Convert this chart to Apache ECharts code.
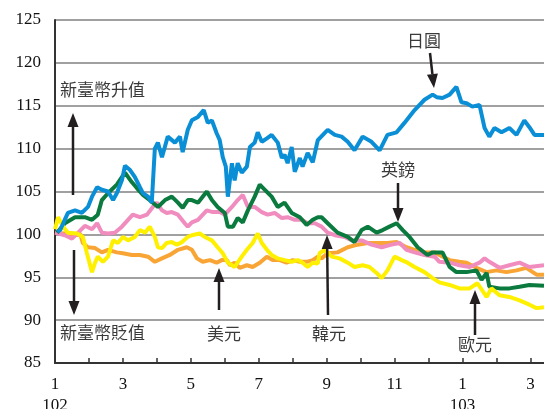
<!DOCTYPE html>
<html>
<head>
<meta charset="utf-8">
<script src="https://cdn.jsdelivr.net/npm/echarts@6/dist/echarts.min.js"></script>
<style>
  html, body { margin: 0; padding: 0; background: #fff; }
  #chart { width: 544px; height: 409px; }
</style>
</head>
<body>
<div id="chart"></div>
<script>
// x = months since Jan 102, y = index (start = 100)
const jpy = [
  [0.06,100.3],[0.15,100.5],[0.38,102.5],[0.59,102.8],[0.79,102.5],[0.97,103.2],[1.09,104.4],[1.24,105.5],
  [1.38,105.2],[1.56,105],[1.71,104],[1.82,104.8],[1.97,106.3],[2.06,108],[2.21,107.5],[2.35,106.7],
  [2.5,105.5],[2.59,104.8],[2.74,104.4],[2.85,103.7],[2.94,110],[3.03,110.7],[3.15,109],[3.32,111.4],
  [3.53,110.7],[3.68,111.4],[3.76,109.6],[3.91,112.2],[4.03,113.3],[4.21,113.7],[4.38,114.5],[4.5,113],
  [4.62,113.3],[4.76,111.8],[4.85,111],[4.94,109],[5.03,107.9],[5.09,104.4],[5.21,108.3],[5.29,106.3],
  [5.38,108.3],[5.5,107.2],[5.65,107.9],[5.74,110.2],[5.88,110.7],[5.97,111.9],[6.09,110.8],[6.24,111.2],
  [6.38,111.6],[6.56,110.7],[6.68,108.9],[6.76,109.3],[6.85,108.3],[6.97,110.2],[7.06,107.3],[7.21,108.9],
  [7.29,107.9],[7.44,109.5],[7.59,108.4],[7.74,111],[8.03,112.2],[8.24,111.6],[8.44,111.4],[8.62,110.8],
  [8.82,109.8],[9.06,111.4],[9.32,110.8],[9.56,109.8],[9.79,111.6],[10.06,111.9],[10.29,113],[10.59,114.5],
  [10.88,115.7],[11.12,116.3],[11.24,116],[11.41,115.9],[11.62,116.3],[11.82,117.2],[11.97,115.4],[12.12,115.3],
  [12.29,114.9],[12.5,115.1],[12.65,112.4],[12.79,111.4],[12.94,112.4],[13.15,111.9],[13.38,112.4],[13.59,111.6],
  [13.82,113.3],[13.97,112.5],[14.12,111.6],[14.4,111.6]
];
const gbp = [
  [0.06,100.2],[0.29,101.3],[0.59,102],[0.88,102],[1.09,101.7],[1.26,102.3],[1.38,104],[1.56,104.8],
  [1.82,105.8],[2.06,107.2],[2.26,106.1],[2.41,105.4],[2.59,104.6],[2.85,103.8],[3.03,103.2],[3.24,104],
  [3.44,104.4],[3.62,103.7],[3.76,103.1],[3.91,104],[4.03,104],[4.21,103.7],[4.47,105],[4.62,104],
  [4.79,103.2],[5,102.5],[5.09,100.9],[5.24,100.9],[5.38,101.9],[5.53,101.4],[5.68,102.8],[5.88,104.4],
  [6.03,105.8],[6.18,105.2],[6.38,104.4],[6.56,103.2],[6.76,103.7],[6.97,102.5],[7.21,102],[7.41,101.1],
  [7.59,101.7],[7.74,102],[7.85,102],[8.03,101.3],[8.32,100.2],[8.62,99.7],[8.82,99.1],[9.03,100.5],
  [9.21,100.9],[9.47,100.2],[9.65,100.5],[9.85,100.9],[10.06,101.3],[10.24,100.5],[10.44,99.7],[10.68,98.5],
  [10.97,97.6],[11.12,97.9],[11.41,97.9],[11.62,96.2],[11.82,95.6],[12.12,95.6],[12.41,95.8],[12.56,94.7],
  [12.71,95.5],[12.79,93.9],[13.09,93.7],[13.38,93.7],[13.68,93.9],[13.97,94.1],[14.4,94]
];
const krw = [
  [0,100.2],[0.29,99.9],[0.5,99.5],[0.68,100.2],[0.88,101],[1.09,100.6],[1.24,101.3],[1.38,100.2],
  [1.56,100.1],[1.76,100.2],[1.97,100.9],[2.15,101.7],[2.29,102.3],[2.5,102],[2.71,102.3],[2.88,103.2],
  [3,103.7],[3.15,102.8],[3.29,102.5],[3.44,102.6],[3.62,102.3],[3.82,101.3],[3.91,100.9],[4.03,101.4],
  [4.21,101.7],[4.47,102.8],[4.65,102.6],[4.85,102.6],[5,102.3],[5.21,103.2],[5.38,104],[5.53,104.6],
  [5.68,103.2],[5.88,103.2],[6.09,102.6],[6.26,102.3],[6.47,102.5],[6.68,101.9],[6.85,102],[7.06,101.7],
  [7.26,101.7],[7.44,101.3],[7.65,101.3],[7.85,100.9],[8.03,100.2],[8.24,99.9],[8.53,99.7],[8.74,99.3],
  [9.03,99.3],[9.32,98.8],[9.62,98.5],[9.91,98.8],[10.15,99],[10.35,98.2],[10.59,97.9],[10.88,97.6],
  [11.18,97.4],[11.32,96.8],[11.62,96.7],[11.91,96.4],[12.21,96.2],[12.5,96.7],[12.65,97.2],[12.79,96.8],
  [13.09,96.1],[13.38,96.4],[13.68,96.7],[13.97,96.2],[14.4,96.4]
];
const eur = [
  [0,100.6],[0.09,102],[0.24,100.9],[0.38,100.2],[0.65,100.1],[0.82,99.7],[0.94,97.8],[1.09,95.6],
  [1.18,96.7],[1.26,97.4],[1.41,96.8],[1.56,97.4],[1.71,99.3],[1.85,99],[2,99.7],[2.15,99.3],
  [2.35,99.7],[2.5,100.5],[2.65,100.2],[2.79,100.9],[2.94,99.7],[3.03,98.5],[3.15,98.4],[3.29,99],
  [3.44,99.1],[3.59,98.8],[3.74,99.1],[3.91,99.7],[4.03,99.9],[4.26,100.1],[4.41,99.7],[4.62,99.3],
  [4.79,98.5],[4.94,97.8],[5.09,96.7],[5.29,96.2],[5.5,97.4],[5.65,98.2],[5.82,99],[5.97,100.1],
  [6.09,99],[6.24,98.2],[6.38,97.6],[6.56,97.2],[6.76,97],[6.97,96.8],[7.15,97],[7.29,96.7],
  [7.44,96.2],[7.59,96.7],[7.74,96.6],[7.79,97.8],[7.94,98.2],[8.15,97.4],[8.38,97.2],[8.62,96.7],
  [8.82,96.2],[9.06,96.4],[9.26,96.2],[9.47,95.5],[9.62,94.9],[9.79,95.8],[10,97.4],[10.21,97],
  [10.38,96.7],[10.59,96.2],[10.88,95.6],[11.12,94.9],[11.32,94.4],[11.62,94.1],[11.91,93.7],[12.21,93.7],
  [12.44,94.3],[12.71,92.7],[12.85,93.7],[13.09,92.9],[13.38,92.7],[13.68,92.3],[13.97,91.8],[14.18,91.4],[14.4,91.5]
];
const usd = [
  [0,100.2],[0.29,100.1],[0.59,99.9],[0.74,100.1],[0.82,99],[0.97,98.5],[1.18,98.4],[1.38,97.9],
  [1.56,98.2],[1.82,97.9],[2,97.8],[2.26,97.6],[2.5,97.6],[2.74,97.4],[2.94,96.8],[3.15,97.2],
  [3.38,97.6],[3.62,98.2],[3.88,98.5],[4.03,98.2],[4.18,97.2],[4.35,96.8],[4.56,97],[4.76,96.7],
  [4.91,97],[5.06,97],[5.15,96.4],[5.29,96.7],[5.44,96.1],[5.65,96.4],[5.82,96.2],[6.03,96.7],
  [6.24,97.4],[6.41,97],[6.62,97],[6.82,96.7],[7,97],[7.21,96.8],[7.41,96.8],[7.59,97],
  [7.74,97.4],[7.85,97.2],[8.03,97.8],[8.32,97.9],[8.62,98.5],[8.91,98.8],[9.21,99],[9.5,99],
  [9.79,99],[10.06,99.1],[10.35,98.5],[10.59,98.2],[10.88,97.9],[11.18,97.9],[11.32,97.6],[11.62,97],
  [11.91,96.8],[12.12,96.7],[12.41,96.1],[12.71,95.6],[13,95.8],[13.29,95.6],[13.59,95.8],[13.88,96.1],
  [14.18,95.3],[14.4,95.3]
];

// x axis tick labels (every second month)
const xTickValues = [0, 2, 4, 6, 8, 10, 12, 14];
const xTickText = ['1\n102', '3', '5', '7', '9', '11', '1\n103', '3'];

const serif = '"Liberation Serif", "DejaVu Serif", serif';
const cjk = '"Noto Sans CJK TC", "Noto Sans CJK SC", sans-serif';

// annotation arrows: [x1, y1, tipX, tipY] in pixels
const notes = [
  { text: '新臺幣升值', x: 60, y: 90, align: 'left', arrow: [73, 195, 73, 113] },
  { text: '新臺幣貶值', x: 60, y: 333, align: 'left', arrow: [74, 250, 74, 315] },
  { text: '日圓', x: 424, y: 41, align: 'center', arrow: [430, 53, 434, 88] },
  { text: '英鎊', x: 398, y: 170, align: 'center', arrow: [398, 183, 398, 222] },
  { text: '美元', x: 224, y: 334, align: 'center', arrow: [219, 310, 219, 268] },
  { text: '韓元', x: 329, y: 334, align: 'center', arrow: [328, 315, 327, 235] },
  { text: '歐元', x: 475, y: 345, align: 'center', arrow: [475, 335, 475, 290] }
];

function arrowShapes(a) {
  const [x1, y1, x2, y2] = a;
  const dx = x2 - x1, dy = y2 - y1;
  const len = Math.sqrt(dx * dx + dy * dy);
  const ux = dx / len, uy = dy / len;
  const headL = 14, headW = 5.5;
  const bx = x2 - ux * headL, by = y2 - uy * headL;
  return [
    { type: 'line', shape: { x1: x1, y1: y1, x2: bx, y2: by }, style: { stroke: '#231f20', lineWidth: 2.5 } },
    { type: 'polygon', shape: { points: [[x2, y2], [bx - uy * headW, by + ux * headW], [bx + uy * headW, by - ux * headW]] },
      style: { fill: '#231f20' } }
  ];
}

const graphics = [];
notes.forEach(n => {
  graphics.push({
    type: 'text', x: n.x, y: n.y, z: 100,
    style: { text: n.text, fill: '#3a3a3a', font: '17px ' + cjk, textAlign: n.align, textVerticalAlign: 'middle' }
  });
  arrowShapes(n.arrow).forEach(s => { s.z = 100; graphics.push(s); });
});

const chart = echarts.init(document.getElementById('chart'));

function lineSeries(name, data, color) {
  return {
    name: name, type: 'line', data: data, showSymbol: false, symbol: 'none',
    lineStyle: { color: color, width: 4 }, itemStyle: { color: color }, animation: false
  };
}

chart.setOption({
  animation: false,
  grid: { left: 55, right: 0, top: 20, bottom: 46, containLabel: false, outerBoundsMode: 'none' },
  xAxis: {
    type: 'value', min: 0, max: 14.4, interval: 1,
    axisLine: { show: true, onZero: false, lineStyle: { color: '#333', width: 2 } },
    axisTick: { show: true, inside: true, length: 5, lineStyle: { color: '#333', width: 1.5 } },
    splitLine: { show: false },
    axisLabel: {
      margin: 11, color: '#111', fontFamily: serif, fontSize: 17, lineHeight: 21,
      showMaxLabel: false,
      formatter: v => {
        const i = xTickValues.indexOf(Math.round(v));
        return (i >= 0 && Math.abs(v - Math.round(v)) < 1e-6) ? xTickText[i] : '';
      }
    }
  },
  yAxis: {
    type: 'value', min: 85, max: 125, interval: 5,
    axisLine: { show: true, lineStyle: { color: '#333', width: 2 } },
    axisTick: { show: false },
    splitLine: { show: true, lineStyle: { color: '#a0a0a0', width: 2 } },
    axisLabel: { margin: 14, color: '#111', fontFamily: serif, fontSize: 17 }
  },
  series: [
    lineSeries('美元', usd, '#f8a535'),
    lineSeries('韓元', krw, '#f08cbe'),
    lineSeries('英鎊', gbp, '#0b7a3e'),
    lineSeries('歐元', eur, '#fff000'),
    lineSeries('日圓', jpy, '#0a8fd6')
  ],
  graphic: graphics
});
</script>
</body>
</html>
